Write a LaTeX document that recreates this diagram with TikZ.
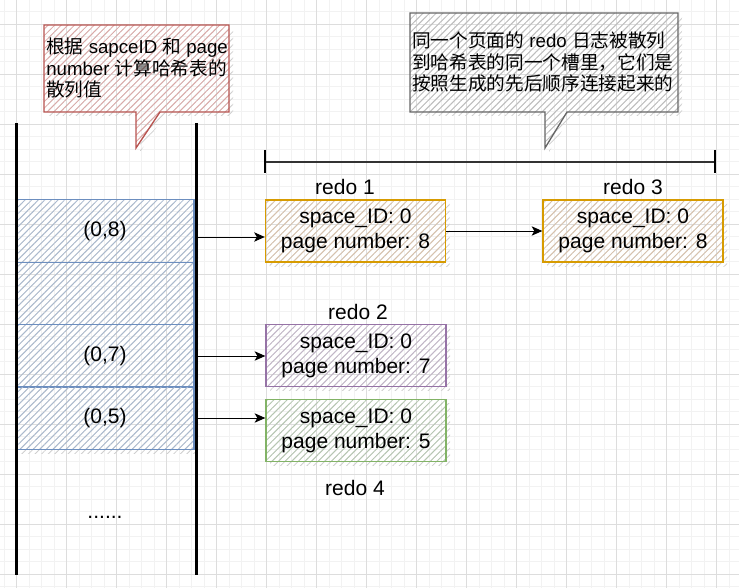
\documentclass[tikz,border=0pt]{standalone}
\usepackage{fontspec}
\setmainfont{Liberation Sans}
\newfontfamily\cjk{Noto Sans CJK SC}
\usetikzlibrary{patterns.meta,arrows.meta,shadows}
\definecolor{gridmajor}{HTML}{DDDDDD}
\definecolor{gridminor}{HTML}{F2F2F2}
\definecolor{bluestroke}{HTML}{6C8EBF}
\definecolor{bluehatch}{HTML}{A9B9CF}
\definecolor{orangestroke}{HTML}{D79B00}
\definecolor{orangehatch}{HTML}{D9C2AA}
\definecolor{purplestroke}{HTML}{9673A6}
\definecolor{purplehatch}{HTML}{C2B5C8}
\definecolor{greenstroke}{HTML}{82B366}
\definecolor{greenhatch}{HTML}{B5C7B0}
\definecolor{redstroke}{HTML}{B85450}
\definecolor{redhatch}{HTML}{DDA8A6}
\definecolor{graystroke}{HTML}{666666}
\definecolor{grayhatch}{HTML}{BDBDBD}
\definecolor{shadowgray}{HTML}{CFCFCF}
\tikzset{
  x=0.75pt, y=-0.75pt,
  minorgrid/.style={draw=gridminor, line width=0.5pt},
  majorgrid/.style={draw=gridmajor, line width=0.6pt},
  hatch/.style={pattern={Lines[angle=45,distance=3.5pt,line width=0.6pt]}},
  hshadow/.style={drop shadow={shadow xshift=3pt, shadow yshift=-3pt, opacity=1, fill=none,
      pattern={Lines[angle=45,distance=3.5pt,line width=0.6pt]}, pattern color=shadowgray}},
  cellbox/.style={hshadow, hatch, draw=bluestroke, pattern color=bluehatch, line width=1pt,
      minimum width=133.5pt, minimum height=46.9pt, inner sep=0pt,
      font=\fontsize{15.75}{18.9}\selectfont},
  redobox/.style={hshadow, hatch, line width=1pt, minimum width=135pt, minimum height=46.5pt,
      inner sep=0pt, align=center, font=\fontsize{15.75}{18.75}\selectfont},
  orangebox/.style={redobox, draw=orangestroke, pattern color=orangehatch},
  purplebox/.style={redobox, draw=purplestroke, pattern color=purplehatch},
  greenbox/.style={redobox, draw=greenstroke, pattern color=greenhatch},
  plainlabel/.style={inner sep=0pt, font=\fontsize{15.75}{18.9}\selectfont},
  callouttext/.style={inner sep=0pt, align=left, anchor=west, font=\fontsize{14}{16.4}\selectfont},
  redcallout/.style={hshadow, hatch, draw=redstroke, pattern color=redhatch, line width=1pt},
  graycallout/.style={hshadow, hatch, draw=graystroke, pattern color=grayhatch, line width=1pt},
  column/.style={draw=black, line width=2.25pt},
  bracketline/.style={draw=black!80, line width=1.3pt},
  brackettick/.style={draw=black, line width=1.5pt},
  arr/.style={draw=black, line width=0.75pt, -{Stealth[length=8pt,width=7pt,inset=2pt]}}
}
\begin{document}
\begin{tikzpicture}
\useasboundingbox (0,0) rectangle (739,588);
\fill[white] (0,0) rectangle (739,588);
% background grid
\foreach \x in {4.2,16.7,...,739} \draw[minorgrid] (\x,0) -- (\x,588);
\foreach \y in {11.8,24.3,...,588} \draw[minorgrid] (0,\y) -- (739,\y);
\foreach \x in {16.7,66.7,...,739} \draw[majorgrid] (\x,0) -- (\x,588);
\foreach \y in {24.3,74.3,...,588} \draw[majorgrid] (0,\y) -- (739,\y);

% callouts
\path[redcallout] (44,25) -- (229,25) -- (229,112) -- (160,112) -- (136,148) -- (136,112) -- (44,112) -- cycle;
\node[callouttext] (t1) at (46,68) {{\cjk 根据} sapceID {\cjk 和} page\\number {\cjk 计算哈希表的}\\{\cjk 散列值}};
\path[graycallout] (410,13) -- (678,13) -- (678,112) -- (567,112) -- (545,148) -- (545,112) -- (410,112) -- cycle;
\node[callouttext] (t2) at (412,62) {{\cjk 同一个页面的} redo {\cjk 日志被散列}\\{\cjk 到哈希表的同一个槽里，它们是}\\{\cjk 按照生成的先后顺序连接起来的}};

% hash table cells
\node[cellbox] (c1) at (105,231) {(0,8)};
\node[cellbox] (c2) at (105,293.5) {};
\node[cellbox] (c3) at (105,356) {(0,7)};
\node[cellbox] (c4) at (105,418) {(0,5)};
\node[plainlabel] (dots) at (105,517) {......};

% column lines
\coordinate (lt) at (16,123);
\coordinate (lb) at (16,575);
\coordinate (rt) at (196,123);
\coordinate (rb) at (196,575);
\draw[column] (lt) -- (lb);
\draw[column] (rt) -- (rb);

% bracket
\coordinate (bl) at (265,162);
\coordinate (br) at (715,162);
\coordinate (blt) at (265,150);
\coordinate (blb) at (265,173);
\coordinate (brt) at (715,150);
\coordinate (brb) at (715,173);
\draw[bracketline] (bl) -- (br);
\draw[brackettick] (blt) -- (blb);
\draw[brackettick] (brt) -- (brb);

% redo records
\node[orangebox] (r1) at (355.5,231) {space\_ID: 0\\page number: 8};
\node[orangebox] (r3) at (633,231) {space\_ID: 0\\page number: 8};
\node[purplebox] (r2) at (356,355.5) {space\_ID: 0\\page number: 7};
\node[greenbox] (r4) at (356,430.5) {space\_ID: 0\\page number: 5};
\node[plainlabel] (l1) at (345,187) {redo 1};
\node[plainlabel] (l3) at (633,187) {redo 3};
\node[plainlabel] (l2) at (358,312) {redo 2};
\node[plainlabel] (l4) at (355,488) {redo 4};

% connectors
\coordinate (a1s) at ([shift={(2,6)}]c1.east);
\coordinate (a1e) at (a1s -| r1.west);
\draw[arr] (a1s) -- (a1e);
\draw[arr] (r1.east) -- (r3.west);
\draw[arr] (c3.east) -- (c3.east -| r2.west);
\draw[arr] (c4.east) -- (c4.east -| r4.west);
\end{tikzpicture}
\end{document}
